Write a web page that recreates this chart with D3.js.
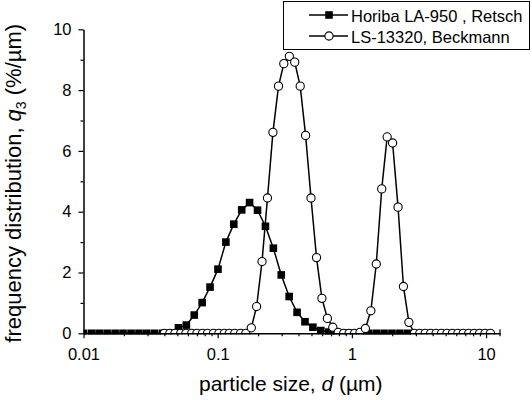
<!DOCTYPE html>
<html>
<head>
<meta charset="utf-8">
<script src="https://cdn.jsdelivr.net/npm/d3@7"></script>
<style>
  html, body { margin: 0; padding: 0; background: #fff; }
  svg { display: block; font-family: "Liberation Sans", Arial, sans-serif; }
</style>
</head>
<body>
<svg id="chart" width="532" height="400"></svg>
<script>
// Horiba LA-950 channel diameters (µm) and frequency q3 (%/µm)
const horibaSize = [0.0100, 0.0115, 0.0131, 0.0150, 0.0172, 0.0197, 0.0226, 0.0259, 0.0296, 0.0339,
  0.0389, 0.0445, 0.0510, 0.0584, 0.0669, 0.0766, 0.0877, 0.1005, 0.1151, 0.1318,
  0.1510, 0.1729, 0.1981, 0.2269, 0.2599, 0.2976, 0.3409, 0.3905, 0.4472, 0.5122,
  0.5867, 0.6720, 0.7697, 0.8816, 1.0097, 1.1565, 1.3246, 1.5172, 1.7377, 1.9904,
  2.2797, 2.6111];
const horibaQ3 = [0, 0, 0, 0, 0, 0, 0, 0, 0, 0,
  0, 0, 0.18, 0.27, 0.60, 1.01, 1.52, 2.11, 3.00, 3.59,
  4.06, 4.30, 4.05, 3.52, 2.80, 1.92, 1.21, 0.69, 0.38, 0.20,
  0.09, 0.04, 0.02, 0, 0, 0, 0, 0, 0, 0,
  0, 0];

// Beckman LS 13320 channel diameters (µm) and frequency q3 (%/µm)
const lsSize = [0.040, 0.044, 0.048, 0.053, 0.058, 0.064, 0.070, 0.077, 0.084, 0.093,
  0.102, 0.112, 0.122, 0.134, 0.148, 0.162, 0.178, 0.195, 0.214, 0.235,
  0.258, 0.284, 0.311, 0.342, 0.375, 0.412, 0.452, 0.496, 0.545, 0.598,
  0.657, 0.721, 0.791, 0.869, 0.953, 1.047, 1.149, 1.261, 1.385, 1.520,
  1.669, 1.832, 2.011, 2.208, 2.423, 2.660, 2.920, 3.206, 3.519, 3.863,
  4.241, 4.656, 5.111, 5.611, 6.159, 6.761, 7.422, 8.148, 8.944, 9.819,
  10.78];
const lsQ3 = [0, 0, 0, 0, 0, 0, 0, 0, 0, 0,
  0, 0, 0, 0, 0, 0, 0.18, 0.88, 2.36, 4.45,
  6.61, 8.13, 8.87, 9.11, 8.92, 8.13, 6.51, 4.45, 2.49, 1.15,
  0.49, 0.20, 0.03, 0, 0, 0, 0.03, 0.16, 0.74, 2.28,
  4.75, 6.46, 6.26, 4.15, 1.54, 0.36, 0, 0, 0, 0,
  0, 0, 0, 0, 0, 0, 0, 0, 0, 0,
  0];

// Axis ticks
const xMajor = [0.01, 0.1, 1, 10];
const xMajorLabels = ["0.01", "0.1", "1", "10"];
const xMinor = [0.02, 0.03, 0.04, 0.05, 0.06, 0.07, 0.08, 0.09,
  0.2, 0.3, 0.4, 0.5, 0.6, 0.7, 0.8, 0.9,
  2, 3, 4, 5, 6, 7, 8, 9];
const yMajor = [0, 2, 4, 6, 8, 10];
const yMinor = [1, 3, 5, 7, 9];

const seriesNames = ["Horiba LA-950 , Retsch", "LS-13320, Beckmann"];

const svg = d3.select("#chart");

const x = d3.scaleLog().domain([0.01, 12.7]).range([83.5, 500]);
const y = d3.scaleLinear().domain([0, 10]).range([333.3, 29.3]);

const x0 = x.range()[0], x1 = x.range()[1];
const y0 = y.range()[0], y1 = y.range()[1];

// clip data to plot frame (symbols at zero are cut at the axis)
svg.append("defs").append("clipPath").attr("id", "plotClip")
  .append("rect")
  .attr("x", x0).attr("y", 0)
  .attr("width", x1 - x0).attr("height", y0 + 1.2);

const plot = svg.append("g").attr("clip-path", "url(#plotClip)");

const line = d3.line().x(d => x(d[0])).y(d => y(d[1]));

// Horiba: filled squares
const horiba = horibaSize.map((d, i) => [d, horibaQ3[i]]);
plot.append("path").datum(horiba)
  .attr("d", line).attr("fill", "none").attr("stroke", "#000").attr("stroke-width", 1.5);
const sq = 7.6;
plot.append("g").selectAll("rect").data(horiba).join("rect")
  .attr("x", d => x(d[0]) - sq / 2).attr("y", d => y(d[1]) - sq / 2)
  .attr("width", sq).attr("height", sq).attr("fill", "#000");

// LS 13320: open circles
const ls = lsSize.map((d, i) => [d, lsQ3[i]]);
plot.append("path").datum(ls)
  .attr("d", line).attr("fill", "none").attr("stroke", "#000").attr("stroke-width", 1.5);
plot.append("g").selectAll("circle").data(ls).join("circle")
  .attr("cx", d => x(d[0])).attr("cy", d => y(d[1])).attr("r", 4.1)
  .attr("fill", "#fff").attr("stroke", "#000").attr("stroke-width", 1.1);

// Axes
const fontTick = "16.5px";

svg.append("g").attr("transform", `translate(0,${y0})`)
  .call(d3.axisBottom(x).tickValues(xMajor).tickFormat((d, i) => xMajorLabels[i])
    .tickSize(5).tickSizeOuter(0).tickPadding(10));
svg.append("g").attr("transform", `translate(0,${y0})`)
  .call(d3.axisBottom(x).tickValues(xMinor).tickFormat("").tickSize(3).tickSizeOuter(0))
  .call(g => g.select(".domain").remove());

svg.append("g").attr("transform", `translate(${x0},0)`)
  .call(d3.axisLeft(y).tickValues(yMajor).tickFormat(d3.format("d"))
    .tickSize(5).tickSizeOuter(0).tickPadding(7));
svg.append("g").attr("transform", `translate(${x0},0)`)
  .call(d3.axisLeft(y).tickValues(yMinor).tickFormat("").tickSize(3).tickSizeOuter(0))
  .call(g => g.select(".domain").remove());

svg.selectAll(".domain").attr("stroke-width", 1.5);
svg.selectAll(".tick line").attr("stroke-width", 1.2);
svg.selectAll(".tick text").attr("font-size", fontTick).attr("fill", "#000")
  .attr("font-family", "Liberation Sans, Arial, sans-serif");

// end cap of the x axis
svg.append("line")
  .attr("x1", x1).attr("x2", x1).attr("y1", y0 - 4).attr("y2", y0 + 3)
  .attr("stroke", "#000").attr("stroke-width", 1.2);

// Axis titles
const xt = svg.append("text")
  .attr("x", (x0 + x(10)) / 2 + 6).attr("y", 391)
  .attr("text-anchor", "middle").attr("font-size", "21px").attr("fill", "#000");
xt.append("tspan").text("particle size, ");
xt.append("tspan").attr("font-style", "italic").text("d");
xt.append("tspan").text(" (µm)");

const yt = svg.append("text")
  .attr("transform", `translate(21,${(y0 + y1) / 2 + 2}) rotate(-90)`)
  .attr("text-anchor", "middle").attr("font-size", "22px").attr("fill", "#000");
yt.append("tspan").text("frequency distribution, ");
yt.append("tspan").attr("font-style", "italic").text("q");
yt.append("tspan").attr("font-size", "14px").attr("dy", 5).text("3");
yt.append("tspan").attr("dy", -5).text(" (%/µm)");

// Legend
const lg = svg.append("g");
lg.append("rect").attr("x", 283.5).attr("y", 1.5).attr("width", 246).attr("height", 48)
  .attr("fill", "#fff").attr("stroke", "#000").attr("stroke-width", 1);
const rows = [15, 36];
const baselines = [21.5, 42.5];
rows.forEach((ry, i) => {
  lg.append("line").attr("x1", 309).attr("x2", 348).attr("y1", ry).attr("y2", ry)
    .attr("stroke", "#000").attr("stroke-width", 1.5);
  if (i === 0) {
    lg.append("rect").attr("x", 329 - sq / 2).attr("y", ry - sq / 2)
      .attr("width", sq).attr("height", sq).attr("fill", "#000");
  } else {
    lg.append("circle").attr("cx", 329).attr("cy", ry).attr("r", 4.1)
      .attr("fill", "#fff").attr("stroke", "#000").attr("stroke-width", 1.1);
  }
  lg.append("text").attr("x", 351).attr("y", baselines[i])
    .attr("font-size", "16.5px").attr("fill", "#000").text(seriesNames[i]);
});
</script>
</body>
</html>
